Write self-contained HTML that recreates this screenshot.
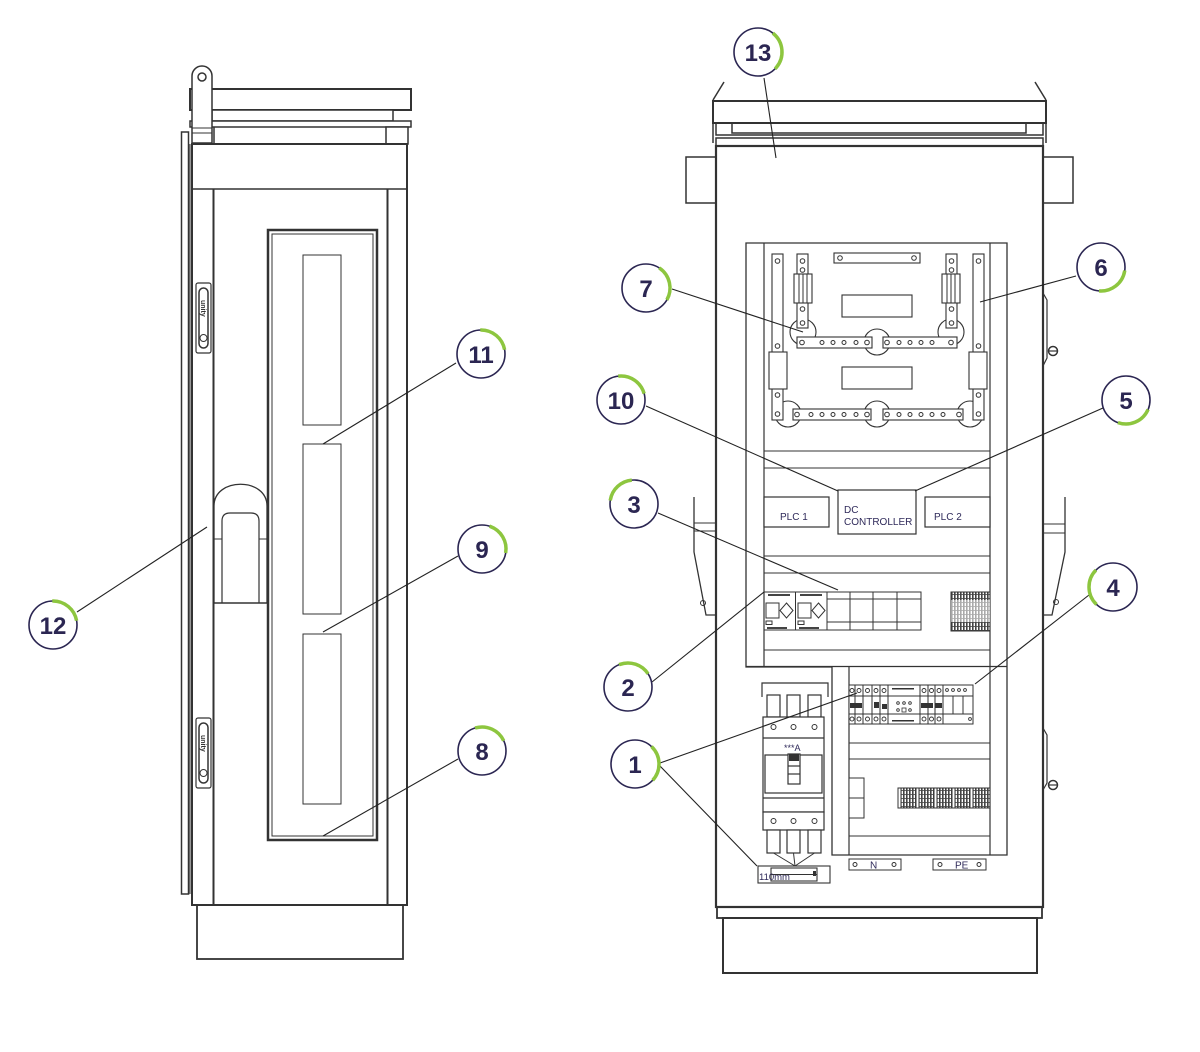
<!DOCTYPE html>
<html><head><meta charset="utf-8"><style>
html,body{margin:0;padding:0;background:#fff;}
svg{display:block;}
text{font-family:"Liberation Sans",sans-serif;}
</style></head><body>
<svg width="1200" height="1052" viewBox="0 0 1200 1052" xmlns="http://www.w3.org/2000/svg">
<defs>
<pattern id="hatch" width="3" height="4" patternUnits="userSpaceOnUse">
<rect width="3" height="4" fill="#fff"/><rect width="1.6" height="4" fill="#444"/><rect y="2" width="3" height="0.8" fill="#444"/>
</pattern>
</defs>
<rect width="1200" height="1052" fill="#fff"/>

<!-- ================= LEFT CABINET ================= -->
<g stroke="#333" fill="none" stroke-width="1.5">
<rect x="181.5" y="132" width="7" height="762" fill="#fff"/>
<rect x="190" y="89" width="221" height="21" fill="#fff" stroke-width="2"/>
<rect x="212" y="110" width="181" height="11" fill="#fff"/>
<rect x="190" y="121" width="221" height="6" fill="#fff"/>
<line x1="214" y1="127" x2="214" y2="144"/>
<rect x="386" y="127" width="22" height="17" fill="#fff"/>
<path d="M192 143 V76 A10 10 0 0 1 212 76 V143 Z" fill="#fff"/>
<circle cx="202" cy="77" r="4"/>
<line x1="192" y1="128" x2="212" y2="128" stroke-width="1"/>
<line x1="192" y1="133" x2="212" y2="133" stroke-width="1"/>
<rect x="192" y="144" width="215" height="761" stroke-width="2"/>
<line x1="192" y1="189" x2="407" y2="189"/>
<line x1="213.5" y1="189" x2="213.5" y2="905" stroke-width="2"/>
<line x1="387.5" y1="189" x2="387.5" y2="905" stroke-width="2"/>
<line x1="190" y1="144" x2="190" y2="894" stroke-width="1"/>
<!-- window -->
<rect x="268" y="230" width="109" height="610" stroke-width="2.5"/>
<rect x="272" y="234" width="101" height="602" stroke-width="1"/>
<rect x="303" y="255" width="38" height="170" stroke-width="1"/>
<rect x="303" y="444" width="38" height="170" stroke-width="1"/>
<rect x="303" y="634" width="38" height="170" stroke-width="1"/>
<!-- handle -->
<path d="M214 603 V506 C214 477 267 477 267 506 V603" stroke-width="1.3"/>
<path d="M222 603 V521 Q222 513 230 513 H251 Q259 513 259 521 V603" stroke-width="1.2"/>
<line x1="214" y1="539" x2="222" y2="539" stroke-width="1"/>
<line x1="259" y1="539" x2="267" y2="539" stroke-width="1"/>
<line x1="214" y1="603" x2="267" y2="603" stroke-width="1.5"/>
<!-- hinge badges -->
<rect x="196" y="283" width="15" height="70" rx="2" stroke-width="1.2"/>
<rect x="199" y="288" width="9" height="60" rx="4.5" stroke-width="1.5"/>
<circle cx="203.5" cy="338" r="3.5" stroke-width="1"/>
<rect x="196" y="718" width="15" height="70" rx="2" stroke-width="1.2"/>
<rect x="199" y="723" width="9" height="60" rx="4.5" stroke-width="1.5"/>
<circle cx="203.5" cy="773" r="3.5" stroke-width="1"/>
<!-- base -->
<rect x="197" y="905" width="206" height="54" stroke-width="1.8"/>
</g>
<text x="0" y="0" font-size="7" font-weight="bold" fill="#333" transform="translate(201,300) rotate(90)">unity</text>
<text x="0" y="0" font-size="7" font-weight="bold" fill="#333" transform="translate(201,735) rotate(90)">unity</text>

<!-- ================= RIGHT CABINET ================= -->
<g stroke="#333" fill="none" stroke-width="1.5">
<line x1="713" y1="100" x2="724" y2="82"/>
<line x1="1046" y1="100" x2="1035" y2="82"/>
<rect x="713" y="101" width="333" height="22" stroke-width="2"/>
<line x1="713" y1="123" x2="713" y2="143"/>
<line x1="1046" y1="123" x2="1046" y2="143"/>
<rect x="716" y="123" width="327" height="12"/>
<rect x="732" y="123" width="294" height="10"/>
<rect x="716" y="138" width="327" height="8"/>
<rect x="716" y="146" width="327" height="761" stroke-width="2.2"/>
<rect x="686" y="157" width="30" height="46"/>
<rect x="1043" y="157" width="30" height="46"/>
<rect x="717" y="907" width="325" height="11" stroke-width="1.8"/>
<rect x="723" y="918" width="314" height="55" stroke-width="2"/>

<!-- hinges right -->
<path d="M1043 293 L1047 300 V358 L1043 366" stroke-width="1.2"/>
<circle cx="1053" cy="351" r="4.5" stroke-width="1.5"/>
<line x1="1049" y1="351" x2="1057" y2="351" stroke-width="1.2"/>
<path d="M1043 728 L1047 735 V783 L1043 790" stroke-width="1.2"/>
<circle cx="1053" cy="785" r="4.5" stroke-width="1.5"/>
<line x1="1049" y1="785" x2="1057" y2="785" stroke-width="1.2"/>
<!-- latch right -->
<path d="M1065 497 V552 L1052 615 H1043" stroke-width="1.3"/>
<line x1="1043" y1="524" x2="1065" y2="524" stroke-width="1"/>
<line x1="1043" y1="533" x2="1065" y2="533" stroke-width="1"/>
<circle cx="1056" cy="602" r="2.5" stroke-width="1"/>
<!-- latch left -->
<path d="M694 497 V552 L706 615 H716" stroke-width="1.3"/>
<line x1="694" y1="523" x2="716" y2="523" stroke-width="1"/>
<line x1="694" y1="531" x2="716" y2="531" stroke-width="1"/>
<circle cx="703" cy="603" r="2.5" stroke-width="1"/>

<!-- mounting panel -->
<path d="M746 243 H1007 V855 H832 V667 H746 Z" stroke-width="1.3"/>
<line x1="764" y1="243" x2="764" y2="667" stroke-width="1.2"/>
<line x1="990" y1="243" x2="990" y2="855" stroke-width="1.2"/>
<line x1="849" y1="667" x2="849" y2="855" stroke-width="1.2"/>
<line x1="746" y1="666.5" x2="1007" y2="666.5" stroke-width="1.3"/>
<g stroke-width="1">
<line x1="764" y1="451" x2="990" y2="451"/>
<line x1="764" y1="468" x2="990" y2="468"/>
<line x1="764" y1="556" x2="990" y2="556"/>
<line x1="764" y1="573" x2="990" y2="573"/>
<line x1="764" y1="650" x2="990" y2="650"/>
<line x1="849" y1="743" x2="990" y2="743"/>
<line x1="849" y1="759" x2="990" y2="759"/>
<line x1="849" y1="836" x2="990" y2="836"/>
</g>
</g>

<!-- busbar area -->
<g stroke="#333" stroke-width="1.1" fill="#fff">
<circle cx="803" cy="332" r="13"/>
<circle cx="877" cy="342" r="13"/>
<circle cx="951" cy="332" r="13"/>
<circle cx="788" cy="414" r="13"/>
<circle cx="877" cy="414" r="13"/>
<circle cx="970" cy="414" r="13"/>
<rect x="772" y="254" width="11" height="166"/>
<rect x="973" y="254" width="11" height="166"/>
<rect x="797" y="254" width="11" height="74"/>
<rect x="946" y="254" width="11" height="74"/>
<rect x="769" y="352" width="18" height="37"/>
<rect x="969" y="352" width="18" height="37"/>
<rect x="794" y="274" width="18" height="29"/>
<rect x="942" y="274" width="18" height="29"/>
<rect x="834" y="253" width="86" height="10"/>
<rect x="842" y="295" width="70" height="22"/>
<rect x="842" y="367" width="70" height="22"/>
<rect x="797" y="337" width="75" height="11"/>
<rect x="883" y="337" width="74" height="11"/>
<rect x="793" y="409" width="78" height="11"/>
<rect x="883" y="409" width="80" height="11"/>
</g>
<g stroke="#333" stroke-width="1">
<line x1="799" y1="274" x2="799" y2="303"/><line x1="803" y1="274" x2="803" y2="303"/><line x1="807" y1="274" x2="807" y2="303"/>
<line x1="947" y1="274" x2="947" y2="303"/><line x1="951" y1="274" x2="951" y2="303"/><line x1="955" y1="274" x2="955" y2="303"/>
</g>
<g stroke="#333" stroke-width="1" fill="#fff">
<circle cx="777.5" cy="261" r="2.3"/><circle cx="777.5" cy="346" r="2.3"/><circle cx="777.5" cy="395" r="2.3"/><circle cx="777.5" cy="414" r="2.3"/>
<circle cx="978.5" cy="261" r="2.3"/><circle cx="978.5" cy="346" r="2.3"/><circle cx="978.5" cy="395" r="2.3"/><circle cx="978.5" cy="414" r="2.3"/>
<circle cx="802.5" cy="261" r="2.3"/><circle cx="802.5" cy="270" r="2.3"/><circle cx="802.5" cy="309" r="2.3"/><circle cx="802.5" cy="323" r="2.3"/>
<circle cx="951.5" cy="261" r="2.3"/><circle cx="951.5" cy="270" r="2.3"/><circle cx="951.5" cy="309" r="2.3"/><circle cx="951.5" cy="323" r="2.3"/>
<circle cx="840" cy="258" r="2.3"/><circle cx="914" cy="258" r="2.3"/>
<circle cx="802" cy="342.5" r="2.3"/><circle cx="822" cy="342.5" r="2"/><circle cx="833" cy="342.5" r="2"/><circle cx="844" cy="342.5" r="2"/><circle cx="856" cy="342.5" r="2"/><circle cx="867" cy="342.5" r="2.3"/>
<circle cx="887" cy="342.5" r="2.3"/><circle cx="899" cy="342.5" r="2"/><circle cx="910" cy="342.5" r="2"/><circle cx="921" cy="342.5" r="2"/><circle cx="932" cy="342.5" r="2"/><circle cx="951" cy="342.5" r="2.3"/>
<circle cx="797" cy="414.5" r="2.3"/><circle cx="811" cy="414.5" r="2"/><circle cx="822" cy="414.5" r="2"/><circle cx="833" cy="414.5" r="2"/><circle cx="844" cy="414.5" r="2"/><circle cx="856" cy="414.5" r="2"/><circle cx="867" cy="414.5" r="2.3"/>
<circle cx="887" cy="414.5" r="2.3"/><circle cx="899" cy="414.5" r="2"/><circle cx="910" cy="414.5" r="2"/><circle cx="921" cy="414.5" r="2"/><circle cx="932" cy="414.5" r="2"/><circle cx="943" cy="414.5" r="2"/><circle cx="959" cy="414.5" r="2.3"/>
</g>

<!-- PLC / controller boxes -->
<g stroke="#333" stroke-width="1.2" fill="#fff">
<rect x="764" y="497" width="65" height="30"/>
<rect x="838" y="490" width="78" height="44"/>
<rect x="925" y="497" width="65" height="30"/>
</g>
<g fill="#2f2a5a" font-size="10">
<text x="780" y="520">PLC 1</text>
<text x="844" y="513">DC</text>
<text x="844" y="525">CONTROLLER</text>
<text x="934" y="520">PLC 2</text>
</g>

<!-- module row -->
<g stroke="#333" stroke-width="1" fill="none">
<rect x="764" y="592" width="157" height="38"/>
<line x1="795.5" y1="592" x2="795.5" y2="630"/>
<line x1="827" y1="592" x2="827" y2="630"/>
<line x1="850" y1="592" x2="850" y2="630"/>
<line x1="873" y1="592" x2="873" y2="630"/>
<line x1="897" y1="592" x2="897" y2="630"/>
<line x1="827" y1="599" x2="921" y2="599"/>
<line x1="827" y1="622" x2="921" y2="622"/>
<rect x="766" y="603" width="13" height="15"/>
<path d="M786.5 603 L793 610.5 L786.5 618 L780 610.5 Z"/>
<rect x="766" y="621" width="6" height="3.5"/>
<rect x="798" y="603" width="13" height="15"/>
<path d="M818.5 603 L825 610.5 L818.5 618 L812 610.5 Z"/>
<rect x="798" y="621" width="6" height="3.5"/>
</g>
<g fill="#444">
<rect x="768" y="594" width="22" height="2"/>
<rect x="800" y="594" width="22" height="2"/>
<rect x="767" y="627" width="20" height="2"/>
<rect x="799" y="627" width="20" height="2"/>
</g>
<rect x="951" y="592" width="39" height="39" fill="url(#hatch)" stroke="#333" stroke-width="1"/>
<rect x="951" y="600" width="39" height="22" fill="#fff" stroke="none" opacity="0.55"/>

<!-- breaker row -->
<g stroke="#333" stroke-width="1" fill="#fff">
<rect x="849" y="685" width="124" height="39"/>
<line x1="849" y1="696" x2="973" y2="696"/>
<line x1="849" y1="714" x2="973" y2="714"/>
<line x1="855" y1="685" x2="855" y2="724"/>
<line x1="863" y1="685" x2="863" y2="724"/>
<line x1="872" y1="685" x2="872" y2="724"/>
<line x1="880" y1="685" x2="880" y2="724"/>
<line x1="888" y1="685" x2="888" y2="724"/>
<line x1="920" y1="685" x2="920" y2="724"/>
<line x1="928" y1="685" x2="928" y2="724"/>
<line x1="935" y1="685" x2="935" y2="724"/>
<line x1="943" y1="685" x2="943" y2="724"/>
<line x1="953" y1="696" x2="953" y2="714"/>
<line x1="963" y1="696" x2="963" y2="714"/>
</g>
<g stroke="#333" stroke-width="0.9" fill="#fff">
<circle cx="852" cy="690.5" r="2"/><circle cx="859" cy="690.5" r="2"/><circle cx="867.5" cy="690.5" r="2"/><circle cx="876" cy="690.5" r="2"/><circle cx="884" cy="690.5" r="2"/>
<circle cx="924" cy="690.5" r="2"/><circle cx="931.5" cy="690.5" r="2"/><circle cx="939" cy="690.5" r="2"/>
<circle cx="947" cy="690" r="1.4"/><circle cx="953" cy="690" r="1.4"/><circle cx="959" cy="690" r="1.4"/><circle cx="965" cy="690" r="1.4"/>
<circle cx="852" cy="719" r="2"/><circle cx="859" cy="719" r="2"/><circle cx="867.5" cy="719" r="2"/><circle cx="876" cy="719" r="2"/><circle cx="884" cy="719" r="2"/>
<circle cx="924" cy="719" r="2"/><circle cx="931.5" cy="719" r="2"/><circle cx="939" cy="719" r="2"/>
<circle cx="970" cy="719" r="1.4"/>
<circle cx="898" cy="703" r="1.3"/><circle cx="904" cy="703" r="1.3"/><circle cx="910" cy="703" r="1.3"/>
<circle cx="898" cy="710" r="1.3"/><circle cx="910" cy="710" r="1.3"/>
</g>
<g fill="#333">
<rect x="850" y="703" width="12" height="5"/>
<rect x="874" y="702" width="5" height="6"/>
<rect x="882" y="704" width="5" height="5"/>
<rect x="921" y="703" width="12" height="5"/>
<rect x="935" y="703" width="7" height="5"/>
<rect x="892" y="688" width="22" height="1.5"/>
<rect x="892" y="720" width="22" height="1.5"/>
<rect x="902" y="708" width="4" height="4" fill="none" stroke="#333" stroke-width="0.8"/>
</g>

<!-- main breaker -->
<g stroke="#333" stroke-width="1.2" fill="#fff">
<path d="M762 697 V683 H828 V697"/>
<rect x="767" y="695" width="13" height="22"/>
<rect x="787" y="695" width="13" height="22"/>
<rect x="808" y="695" width="13" height="22"/>
<rect x="763" y="717" width="61" height="95"/>
<line x1="763" y1="738" x2="824" y2="738"/>
<rect x="765" y="755" width="57" height="38"/>
<rect x="788" y="754" width="12" height="30"/>
<line x1="788" y1="766" x2="800" y2="766"/>
<line x1="788" y1="774" x2="800" y2="774"/>
<line x1="763" y1="798" x2="824" y2="798"/>
<rect x="763" y="812" width="61" height="18"/>
<rect x="767" y="830" width="13" height="23"/>
<rect x="787" y="830" width="13" height="23"/>
<rect x="808" y="830" width="13" height="23"/>
</g>
<rect x="789" y="754" width="10" height="7" fill="#333"/>
<g stroke="#333" stroke-width="1" fill="#fff">
<circle cx="773.5" cy="727" r="2.5"/><circle cx="793.5" cy="727" r="2.5"/><circle cx="814.5" cy="727" r="2.5"/>
<circle cx="773.5" cy="821" r="2.5"/><circle cx="793.5" cy="821" r="2.5"/><circle cx="814.5" cy="821" r="2.5"/>
</g>
<text x="784" y="751" font-size="9" fill="#2f2a5a">***A</text>
<g stroke="#333" stroke-width="1">
<line x1="773.5" y1="853" x2="795" y2="866"/>
<line x1="793.5" y1="853" x2="795" y2="866"/>
<line x1="814.5" y1="853" x2="795" y2="866"/>
</g>
<g stroke="#333" stroke-width="1.1" fill="#fff">
<rect x="758" y="866" width="72" height="17"/>
<rect x="771" y="868" width="46" height="13"/>
<line x1="771" y1="874.5" x2="817" y2="874.5"/>
</g>
<rect x="813" y="871" width="3" height="5" fill="#333"/>
<text x="759" y="880" font-size="9.5" fill="#2f2a5a">110mm</text>

<!-- lower devices -->
<rect x="849" y="778" width="15" height="40" fill="#fff" stroke="#333" stroke-width="1"/>
<line x1="849" y1="798" x2="864" y2="798" stroke="#333" stroke-width="1"/>
<rect x="898" y="788" width="92" height="20" fill="url(#hatch)" stroke="#333" stroke-width="1"/>
<g stroke="#333" stroke-width="1" fill="#fff">
<rect x="898" y="788" width="3" height="20"/><rect x="916" y="788" width="3" height="20"/><rect x="934" y="788" width="3" height="20"/><rect x="952" y="788" width="3" height="20"/><rect x="970" y="788" width="3" height="20"/>
</g>
<g stroke="#333" stroke-width="1" fill="#fff">
<rect x="849" y="859" width="52" height="11"/>
<rect x="933" y="859" width="53" height="11"/>
<circle cx="855" cy="864.5" r="2"/><circle cx="894" cy="864.5" r="2"/>
<circle cx="940" cy="864.5" r="2"/><circle cx="979" cy="864.5" r="2"/>
</g>
<text x="870" y="868.5" font-size="10" fill="#2f2a5a">N</text>
<text x="955" y="868.5" font-size="10" fill="#2f2a5a">PE</text>

<!-- ================= LEADER LINES ================= -->
<g stroke="#222" stroke-width="1.1">
<line x1="764" y1="78" x2="776" y2="158"/>
<line x1="672" y1="289" x2="803" y2="332"/>
<line x1="1076" y1="276" x2="980" y2="302"/>
<line x1="646" y1="406" x2="838" y2="491"/>
<line x1="1103" y1="408" x2="915" y2="491"/>
<line x1="658" y1="513" x2="838" y2="590"/>
<line x1="652" y1="682" x2="764" y2="592"/>
<line x1="1089" y1="595" x2="975" y2="684"/>
<line x1="660" y1="763" x2="857" y2="693"/>
<line x1="660" y1="766" x2="757" y2="866"/>
<line x1="456" y1="363" x2="323" y2="444"/>
<line x1="458" y1="556" x2="323" y2="632"/>
<line x1="458" y1="759" x2="323" y2="836"/>
<line x1="77" y1="612" x2="207" y2="527"/>
</g>

<!-- ================= CALLOUT CIRCLES ================= -->
<g fill="#fff" stroke="#2b2652" stroke-width="1.6">
<circle cx="758" cy="52" r="24"/>
<circle cx="646" cy="288" r="24"/>
<circle cx="1101" cy="267" r="24"/>
<circle cx="621" cy="400" r="24"/>
<circle cx="1126" cy="400" r="24"/>
<circle cx="634" cy="504" r="24"/>
<circle cx="1113" cy="587" r="24"/>
<circle cx="628" cy="687" r="24"/>
<circle cx="635" cy="764" r="24"/>
<circle cx="481" cy="354" r="24"/>
<circle cx="482" cy="549" r="24"/>
<circle cx="482" cy="751" r="24"/>
<circle cx="53" cy="625" r="24"/>
</g>
<g fill="none" stroke="#8dc63f" stroke-width="3.5" stroke-linecap="butt">
<circle cx="758" cy="52" r="24" pathLength="360" stroke-dasharray="95 265" transform="rotate(-50 758 52)"/>
<circle cx="646" cy="288" r="24" pathLength="360" stroke-dasharray="85 275" transform="rotate(-55 646 288)"/>
<circle cx="1101" cy="267" r="24" pathLength="360" stroke-dasharray="85 275" transform="rotate(10 1101 267)"/>
<circle cx="621" cy="400" r="24" pathLength="360" stroke-dasharray="80 280" transform="rotate(-95 621 400)"/>
<circle cx="1126" cy="400" r="24" pathLength="360" stroke-dasharray="85 275" transform="rotate(25 1126 400)"/>
<circle cx="634" cy="504" r="24" pathLength="360" stroke-dasharray="75 285" transform="rotate(190 634 504)"/>
<circle cx="1113" cy="587" r="24" pathLength="360" stroke-dasharray="90 270" transform="rotate(135 1113 587)"/>
<circle cx="628" cy="687" r="24" pathLength="360" stroke-dasharray="77 283" transform="rotate(-110 628 687)"/>
<circle cx="635" cy="764" r="24" pathLength="360" stroke-dasharray="88 272" transform="rotate(-45 635 764)"/>
<circle cx="481" cy="354" r="24" pathLength="360" stroke-dasharray="80 280" transform="rotate(-90 481 354)"/>
<circle cx="482" cy="549" r="24" pathLength="360" stroke-dasharray="80 280" transform="rotate(-70 482 549)"/>
<circle cx="482" cy="751" r="24" pathLength="360" stroke-dasharray="80 280" transform="rotate(-105 482 751)"/>
<circle cx="53" cy="625" r="24" pathLength="360" stroke-dasharray="80 280" transform="rotate(-90 53 625)"/>
</g>
<g fill="#2b2652" font-size="24" font-weight="bold" text-anchor="middle">
<text x="758" y="61">13</text>
<text x="646" y="297">7</text>
<text x="1101" y="276">6</text>
<text x="621" y="409">10</text>
<text x="1126" y="409">5</text>
<text x="634" y="513">3</text>
<text x="1113" y="596">4</text>
<text x="628" y="696">2</text>
<text x="635" y="773">1</text>
<text x="481" y="363">11</text>
<text x="482" y="558">9</text>
<text x="482" y="760">8</text>
<text x="53" y="634">12</text>
</g>
</svg>
</body></html>
